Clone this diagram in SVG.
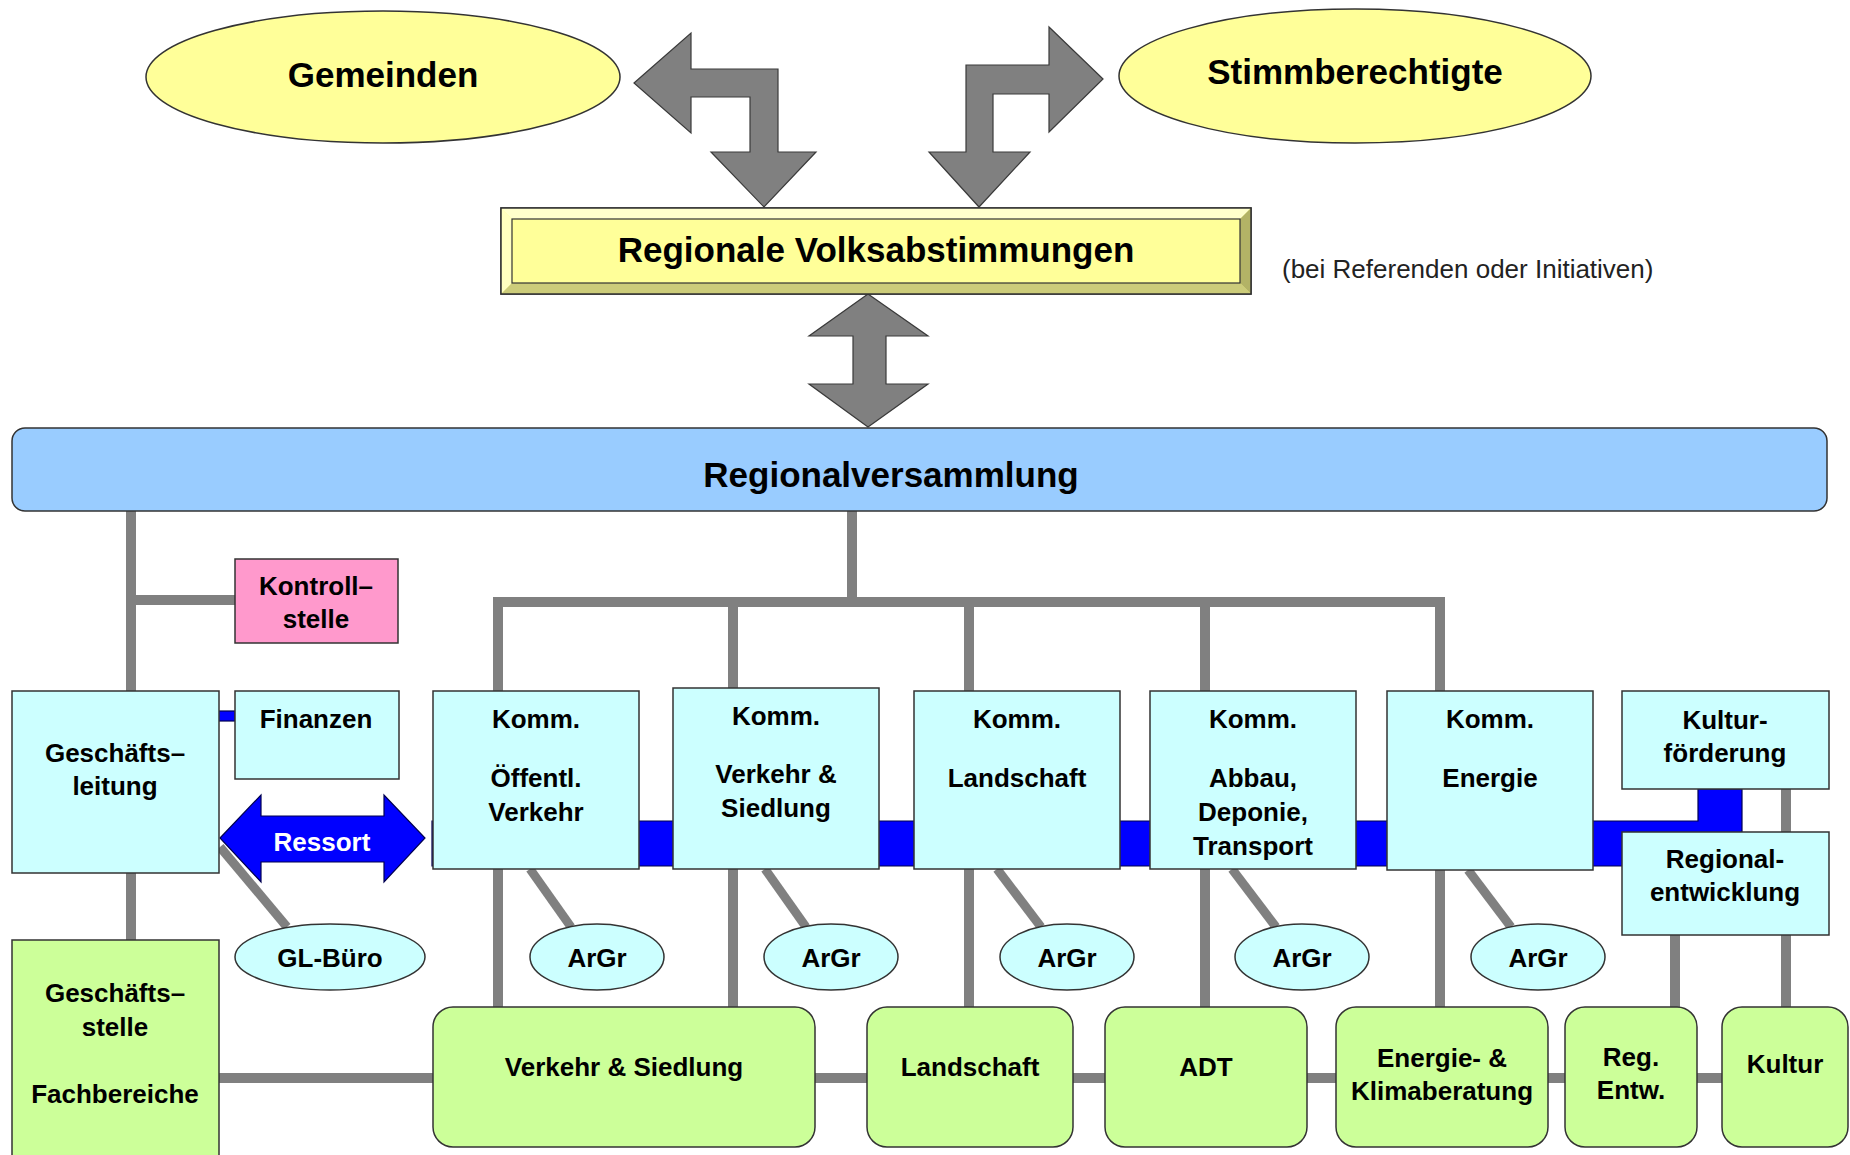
<svg xmlns="http://www.w3.org/2000/svg" width="1850" height="1155" viewBox="0 0 1850 1155">
<style>
text { font-family: "Liberation Sans", Arial, sans-serif; fill: #000; }
.big { font-size: 35px; font-weight: bold; text-anchor: middle; }
.lbl { font-size: 26px; font-weight: bold; text-anchor: middle; }
.note { font-size: 26px; fill: #222; }
.wht { fill: #fff; }
.ln { stroke: #808080; stroke-width: 10; fill: none; }
.dg { stroke: #808080; stroke-width: 9; fill: none; }
.garrow { fill: #808080; stroke: #3a3a3a; stroke-width: 1.2; stroke-linejoin: miter; }
.blue { fill: #0000FF; stroke: #000050; stroke-width: 1.2; }
.yel { fill: #FFFF99; stroke: #333; stroke-width: 1.5; }
.cyan { fill: #CCFFFF; stroke: #333; stroke-width: 1.5; }
.green { fill: #CCFF99; stroke: #333; stroke-width: 1.5; }
.pink { fill: #FF99CC; stroke: #333; stroke-width: 1.5; }
.rv { fill: #99CCFF; stroke: #333; stroke-width: 1.5; }
</style>

<g id="connectors">
  <!-- big gray double arrows -->
  <path class="garrow" d="M634,83 L691,33 L691,69 L778,69 L778,152 L816,152 L764,207 L711,152 L750,152 L750,97 L691,97 L691,133 Z"/>
  <path class="garrow" d="M1103,79 L1049,27 L1049,65 L966,65 L966,152 L929,152 L979,207 L1030,152 L993,152 L993,94 L1049,94 L1049,132 Z"/>
  <path class="garrow" d="M868,294 L928,336 L886,336 L886,384 L928,384 L868,427 L809,384 L853,384 L853,336 L809,336 Z"/>
  <!-- gray tree lines -->
  <line class="ln" x1="852" y1="511" x2="852" y2="602"/>
  <path class="ln" d="M498,1007 V602 H1440 V1007"/>
  <line class="ln" x1="733" y1="602" x2="733" y2="1007"/>
  <line class="ln" x1="969" y1="602" x2="969" y2="1007"/>
  <line class="ln" x1="1205" y1="602" x2="1205" y2="1007"/>
  <line class="ln" x1="131" y1="511" x2="131" y2="940"/>
  <line class="ln" x1="131" y1="600" x2="235" y2="600"/>
  <line class="ln" x1="218" y1="1078" x2="1722" y2="1078"/>
  <line class="ln" x1="1786" y1="789" x2="1786" y2="1007"/>
  <line class="ln" x1="1675" y1="935" x2="1675" y2="1007"/>
  <!-- diagonal links to ellipses -->
  <line class="dg" x1="220" y1="847" x2="287" y2="927"/>
  <line class="dg" x1="530" y1="869" x2="571" y2="927"/>
  <line class="dg" x1="765" y1="869" x2="806" y2="927"/>
  <line class="dg" x1="997" y1="869" x2="1041" y2="927"/>
  <line class="dg" x1="1232" y1="869" x2="1276" y2="927"/>
  <line class="dg" x1="1468" y1="870" x2="1511" y2="927"/>
  <!-- blue links -->
  <path class="blue" d="M432,821 H1698 V789 H1742 V866 H432 Z"/>
  <rect class="blue" x="218" y="711" width="17" height="10"/>
  <path class="blue" d="M220,838 L261,795 L261,816 L384,816 L384,795 L425,838 L384,882 L384,862 L261,862 L261,882 Z"/>
  <text class="lbl wht" x="322" y="851">Ressort</text>
</g>

<g id="gemeinden">
  <ellipse class="yel" cx="383" cy="77" rx="237" ry="66"/>
  <text class="big" x="383" y="87">Gemeinden</text>
</g>
<g id="stimmberechtigte">
  <ellipse class="yel" cx="1355" cy="76" rx="236" ry="67"/>
  <text class="big" x="1355" y="84">Stimmberechtigte</text>
</g>

<g id="volksabstimmungen">
  <rect x="501" y="208" width="750" height="86" fill="#FFFF99" stroke="#333" stroke-width="1.5"/>
  <polygon points="501,208 1251,208 1240,219 512,219" fill="#FFFFCC"/>
  <polygon points="501,208 512,219 512,283 501,294" fill="#FFFFC0"/>
  <polygon points="501,294 512,283 1240,283 1251,294" fill="#CCCC7A"/>
  <polygon points="1251,208 1240,219 1240,283 1251,294" fill="#B3B366"/>
  <rect x="512" y="219" width="728" height="64" fill="#FFFF99" stroke="#333" stroke-width="1.2"/>
  <rect x="501" y="208" width="750" height="86" fill="none" stroke="#333" stroke-width="1.5"/>
  <text class="big" x="876" y="262">Regionale Volksabstimmungen</text>
</g>
<text class="note" x="1282" y="278">(bei Referenden oder Initiativen)</text>

<g id="regionalversammlung">
  <rect class="rv" x="12" y="428" width="1815" height="83" rx="13"/>
  <text class="big" x="891" y="487">Regionalversammlung</text>
</g>

<g id="kontrollstelle">
  <rect class="pink" x="235" y="559" width="163" height="84"/>
  <text class="lbl" x="316" y="595">Kontroll–</text>
  <text class="lbl" x="316" y="628">stelle</text>
</g>

<g id="geschaeftsleitung">
  <rect class="cyan" x="12" y="691" width="207" height="182"/>
  <text class="lbl" x="115" y="762">Geschäfts–</text>
  <text class="lbl" x="115" y="795">leitung</text>
</g>
<g id="finanzen">
  <rect class="cyan" x="235" y="691" width="164" height="88"/>
  <text class="lbl" x="316" y="728">Finanzen</text>
</g>

<g id="komm-oev">
  <rect class="cyan" x="433" y="691" width="206" height="178"/>
  <text class="lbl" x="536" y="728">Komm.</text>
  <text class="lbl" x="536" y="787">Öffentl.</text>
  <text class="lbl" x="536" y="821">Verkehr</text>
</g>
<g id="komm-vs">
  <rect class="cyan" x="673" y="688" width="206" height="181"/>
  <text class="lbl" x="776" y="725">Komm.</text>
  <text class="lbl" x="776" y="783">Verkehr &amp;</text>
  <text class="lbl" x="776" y="817">Siedlung</text>
</g>
<g id="komm-landschaft">
  <rect class="cyan" x="914" y="691" width="206" height="178"/>
  <text class="lbl" x="1017" y="728">Komm.</text>
  <text class="lbl" x="1017" y="787">Landschaft</text>
</g>
<g id="komm-adt">
  <rect class="cyan" x="1150" y="691" width="206" height="178"/>
  <text class="lbl" x="1253" y="728">Komm.</text>
  <text class="lbl" x="1253" y="787">Abbau,</text>
  <text class="lbl" x="1253" y="821">Deponie,</text>
  <text class="lbl" x="1253" y="855">Transport</text>
</g>
<g id="komm-energie">
  <rect class="cyan" x="1387" y="691" width="206" height="179"/>
  <text class="lbl" x="1490" y="728">Komm.</text>
  <text class="lbl" x="1490" y="787">Energie</text>
</g>
<g id="kulturfoerderung">
  <rect class="cyan" x="1622" y="691" width="207" height="98"/>
  <text class="lbl" x="1725" y="729">Kultur-</text>
  <text class="lbl" x="1725" y="762">förderung</text>
</g>
<g id="regionalentwicklung">
  <rect class="cyan" x="1622" y="832" width="207" height="103"/>
  <text class="lbl" x="1725" y="868">Regional-</text>
  <text class="lbl" x="1725" y="901">entwicklung</text>
</g>

<g id="gl-buero">
  <ellipse class="cyan" cx="330" cy="957" rx="95" ry="33"/>
  <text class="lbl" x="330" y="967">GL-Büro</text>
</g>
<g id="argr-1">
  <ellipse class="cyan" cx="597" cy="957" rx="67" ry="33"/>
  <text class="lbl" x="597" y="967">ArGr</text>
</g>
<g id="argr-2">
  <ellipse class="cyan" cx="831" cy="957" rx="67" ry="33"/>
  <text class="lbl" x="831" y="967">ArGr</text>
</g>
<g id="argr-3">
  <ellipse class="cyan" cx="1067" cy="957" rx="67" ry="33"/>
  <text class="lbl" x="1067" y="967">ArGr</text>
</g>
<g id="argr-4">
  <ellipse class="cyan" cx="1302" cy="957" rx="67" ry="33"/>
  <text class="lbl" x="1302" y="967">ArGr</text>
</g>
<g id="argr-5">
  <ellipse class="cyan" cx="1538" cy="957" rx="67" ry="33"/>
  <text class="lbl" x="1538" y="967">ArGr</text>
</g>

<g id="geschaeftsstelle">
  <rect class="green" x="12" y="940" width="207" height="240"/>
  <text class="lbl" x="115" y="1002">Geschäfts–</text>
  <text class="lbl" x="115" y="1036">stelle</text>
  <text class="lbl" x="115" y="1103">Fachbereiche</text>
</g>
<g id="fb-verkehr-siedlung">
  <rect class="green" x="433" y="1007" width="382" height="140" rx="20"/>
  <text class="lbl" x="624" y="1076">Verkehr &amp; Siedlung</text>
</g>
<g id="fb-landschaft">
  <rect class="green" x="867" y="1007" width="206" height="140" rx="20"/>
  <text class="lbl" x="970" y="1076">Landschaft</text>
</g>
<g id="fb-adt">
  <rect class="green" x="1105" y="1007" width="202" height="140" rx="20"/>
  <text class="lbl" x="1206" y="1076">ADT</text>
</g>
<g id="fb-energie">
  <rect class="green" x="1336" y="1007" width="212" height="140" rx="20"/>
  <text class="lbl" x="1442" y="1067">Energie- &amp;</text>
  <text class="lbl" x="1442" y="1100">Klimaberatung</text>
</g>
<g id="fb-reg-entw">
  <rect class="green" x="1565" y="1007" width="132" height="140" rx="20"/>
  <text class="lbl" x="1631" y="1066">Reg.</text>
  <text class="lbl" x="1631" y="1099">Entw.</text>
</g>
<g id="fb-kultur">
  <rect class="green" x="1722" y="1007" width="126" height="140" rx="20"/>
  <text class="lbl" x="1785" y="1073">Kultur</text>
</g>
</svg>
